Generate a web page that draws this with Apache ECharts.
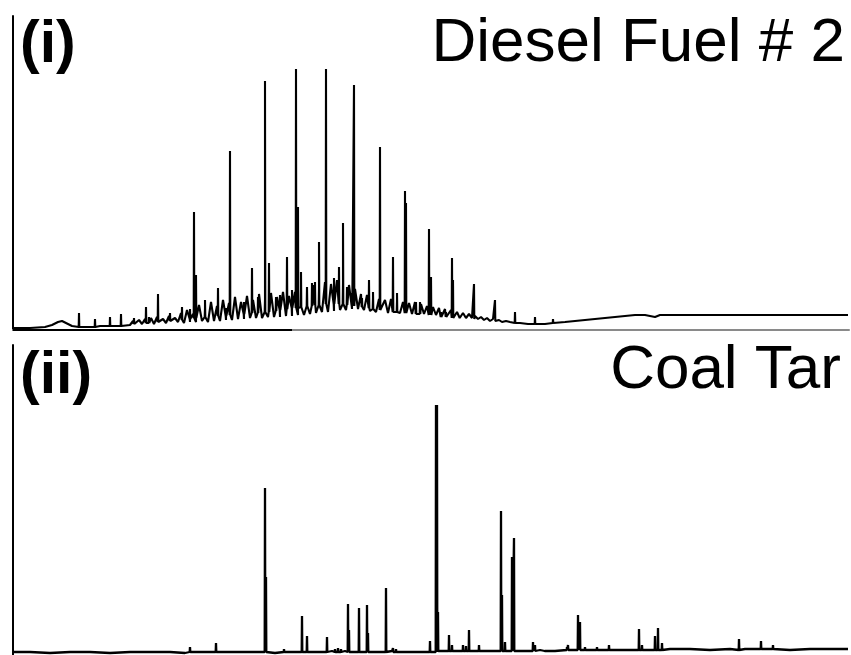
<!DOCTYPE html>
<html><head><meta charset="utf-8">
<script src="https://cdn.jsdelivr.net/npm/echarts@6/dist/echarts.min.js"></script>
<style>html,body{margin:0;padding:0;background:#fff}#c{width:851px;height:655px}</style>
</head><body><div id="c"></div>
<script>
// Panel labels and sample names
const panelLabels = ['(i)', '(ii)'];
const panelTitles = ['Diesel Fuel # 2', 'Coal Tar'];

// Diesel Fuel #2: baseline / unresolved hump [retention, intensity]
const dieselBaseline = [
[13,2],[30,2],[45,3],[52,5],[58,8],[62,9],[66,7],[72,4],[80,3],[90,3],[100,4],[112,4],[122,5],[130,5],
[133,9],[136,5],[139,10],[142,6],[145,11],[148,6],[151,12],[154,6],[157,13],[160,7],[163,11],[166,7],[169,14],[172,7],[175,12],[178,8],
[181,17],[184,7],[187,20],[190,8],[193,16],[196,8],[199,25],[202,9],[205,22],[208,8],[211,28],[214,9],[217,24],[220,9],[223,30],[226,10],
[229,27],[232,10],[235,33],[238,11],[241,28],[244,11],[247,34],[250,12],[253,30],[256,12],[259,36],[262,12],[265,31],[268,13],[271,37],
[274,13],[277,33],[280,13],[283,38],[286,14],[289,34],[292,14],[295,38],[298,15],[301,40],[304,15],[307,43],[310,16],[313,45],[316,17],
[319,42],[322,18],[325,48],[328,18],[331,46],[334,19],[337,50],[340,20],[343,47],[346,20],[349,45],[352,21],[355,41],[358,21],[361,36],
[364,20],[367,35],[370,19],[373,32],[376,18],[379,31],[382,18],[385,30],[388,17],[391,31],[394,17],[397,29],[400,17],[403,28],[406,17],
[409,27],[412,16],[415,28],[418,16],[421,26],[424,16],[427,24],[430,16],[433,23],[436,15],[439,22],[442,15],[445,21],[448,14],[451,20],
[454,14],[457,18],[460,13],[463,17],[466,12],[469,16],[472,12],[475,14],[478,11],[481,13],[484,10],[487,12],[490,9],[493,11],[496,9],
[499,10],[502,8],[506,9],[510,8],[515,7],[520,7],[528,6],[536,6],[545,6],[555,7],[565,8],[575,9],[585,10],[595,11],[605,12],[615,13],
[625,14],[635,15],[645,15],[650,14],[655,13],[660,15],[670,15],[700,15],[750,15],[800,15],[848,15]
];
// Diesel resolved peaks: retention, apex intensity, local base
const dieselPeakX = [79,95,110,121,134,146,149,158,170,182,190,194,196,205,218,226,230,244,252,258,265,269,276,280,287,292,296,298,301,307,312,315,319,326,334,339,343,347,352,354,362,369,373,380,393,397,405,406,416,420,429,431,441,446,452,453,460,474,495,515,535,553];
const dieselPeakH = [17,11,13,16,12,23,13,36,17,23,21,118,55,30,42,22,179,28,62,33,249,67,33,35,73,40,261,123,58,45,47,48,88,261,52,63,107,43,37,245,32,50,38,183,73,37,139,127,28,28,101,53,18,18,72,50,13,46,30,18,13,11];
const dieselPeakBase = [3,3,4,4,6,7,7,8,9,10,11,12,12,13,14,14,15,16,17,17,18,18,19,20,21,22,22,22,23,24,24,25,25,26,26,26,26,25,24,24,23,22,21,20,18,18,17,17,16,16,15,15,13,13,12,12,12,11,9,7,6,7];

// Coal Tar: baseline and peaks
const coalBaseline = [
[13,3],[30,3],[50,2],[70,3],[90,3],[110,2],[130,3],[150,3],[170,3],[185,2],[200,3],[230,3],[250,3],[275,2],[290,3],[320,3],[332,4],
[345,4],[355,3],[375,3],[392,4],[405,3],[420,3],[445,4],[460,4],[475,4],[490,4],[520,4],[540,5],[555,4],[575,5],[590,5],[605,5],
[620,5],[635,5],[650,5],[670,6],[690,6],[710,5],[730,6],[745,6],[770,6],[790,5],[810,6],[830,6],[848,6]
];
const coalPeakX = [190,216,265,266,284,302,307,327,335,338,341,348,349,359,367,368,386,393,396,413,430,436,437,438,449,452,463,466,469,479,501,502,505,512,514,522,533,535,545,567,568,578,580,585,597,609,622,639,642,655,658,662,739,751,761,773];
const coalPeakH = [8,12,167,78,6,39,19,18,6,7,6,51,25,47,50,22,67,7,6,4,14,250,250,43,20,10,10,9,25,10,144,60,13,98,117,5,13,10,6,8,10,40,33,8,8,10,6,26,10,19,27,12,16,8,14,10];
const coalPeakBase = [3,3,3,3,3,3,3,3,3,3,3,3,3,3,3,3,3,3,3,3,3,3,3,4,4,4,4,4,4,4,4,4,4,4,4,4,4,4,4,5,5,5,5,5,5,5,5,5,5,5,5,5,5,6,6,6];

function buildTrace(baseline, px, ph, pb) {
  const pts = baseline.map(p => [p[0], p[1]]);
  px.forEach((x, i) => {
    pts.push([x - 0.3, pb[i]]);
    pts.push([x, ph[i]]);
    pts.push([x + 0.3, pb[i]]);
  });
  pts.sort((a, b) => a[0] - b[0]);
  return pts;
}

const font = 'Liberation Sans';
const chart = echarts.init(document.getElementById('c'), null, {renderer: 'canvas'});
const hiddenBits = {axisLabel: {show: false}, axisTick: {show: false}, splitLine: {show: false}};
chart.setOption({
  animation: false,
  backgroundColor: '#fff',
  title: [
    {text: panelLabels[0], left: 20, top: 16, padding: 0, textStyle: {fontFamily: font, fontSize: 59, fontWeight: 'bold', color: '#000'}},
    {text: panelTitles[0], right: 6, top: 13, padding: 0, textStyle: {fontFamily: font, fontSize: 62, fontWeight: 'normal', color: '#000'}},
    {text: panelLabels[1], left: 20, top: 347, padding: 0, textStyle: {fontFamily: font, fontSize: 59, fontWeight: 'bold', color: '#000'}},
    {text: panelTitles[1], right: 10, top: 340, padding: 0, textStyle: {fontFamily: font, fontSize: 62, fontWeight: 'normal', color: '#000'}}
  ],
  grid: [
    {left: 13, right: 2, top: 16, height: 314},
    {left: 13, right: 2, top: 345, height: 310}
  ],
  xAxis: [
    Object.assign({type: 'value', gridIndex: 0, min: 13, max: 849,
      axisLine: {show: true, onZero: false, lineStyle: {color: '#8a8a8a', width: 2}}}, hiddenBits),
    Object.assign({type: 'value', gridIndex: 1, min: 13, max: 849,
      axisLine: {show: false}}, hiddenBits)
  ],
  yAxis: [
    Object.assign({type: 'value', gridIndex: 0, min: 0, max: 314,
      axisLine: {show: true, onZero: false, lineStyle: {color: '#000', width: 2}}}, hiddenBits),
    Object.assign({type: 'value', gridIndex: 1, min: 0, max: 310,
      axisLine: {show: true, onZero: false, lineStyle: {color: '#000', width: 2}}}, hiddenBits)
  ],
  series: [
    {type: 'line', xAxisIndex: 0, yAxisIndex: 0, showSymbol: false, symbol: 'none',
      lineStyle: {color: '#000', width: 2.1}, data: buildTrace(dieselBaseline, dieselPeakX, dieselPeakH, dieselPeakBase)},
    {type: 'line', xAxisIndex: 0, yAxisIndex: 0, showSymbol: false, symbol: 'none', clip: false,
      lineStyle: {color: '#000', width: 2}, data: [[13, 0], [292, 0]]},
    {type: 'line', xAxisIndex: 1, yAxisIndex: 1, showSymbol: false, symbol: 'none',
      lineStyle: {color: '#000', width: 2.3}, data: buildTrace(coalBaseline, coalPeakX, coalPeakH, coalPeakBase)}
  ]
});
</script>
</body></html>
